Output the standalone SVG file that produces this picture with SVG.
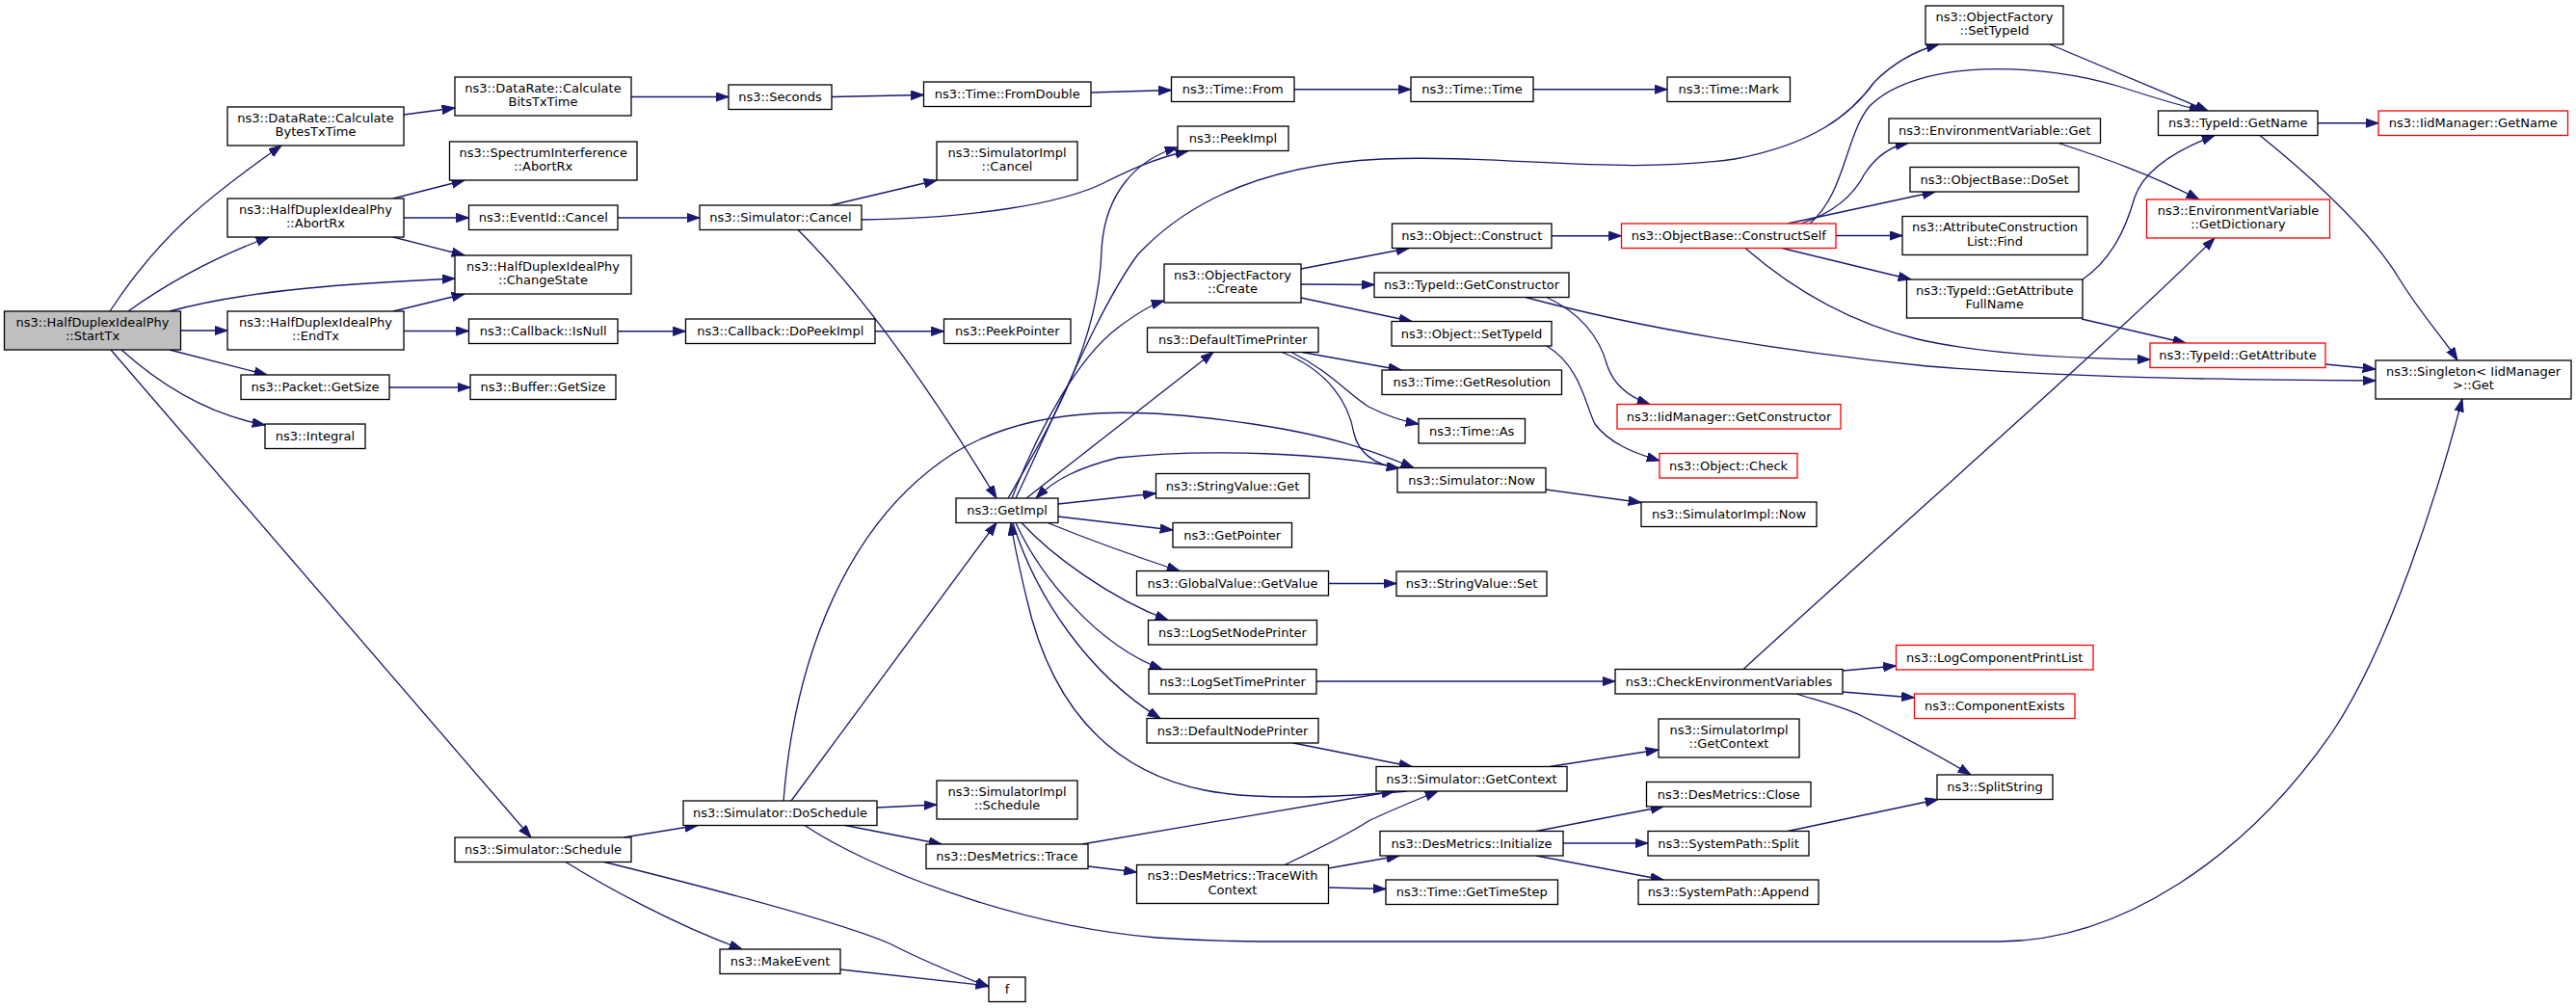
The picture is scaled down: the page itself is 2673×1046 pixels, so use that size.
<svg xmlns="http://www.w3.org/2000/svg" width="2673" height="1046" viewBox="0 0 2673 1046">
<style>
.node rect { fill:#ffffff; stroke:#000000; stroke-width:1.3; }
.node.red rect { stroke:#ff0000; }
.node.root rect { fill:#bfbfbf; }
.node text { font-family:"DejaVu Sans","Liberation Sans",sans-serif; font-size:13px; text-anchor:middle; fill:#000000; }
#edges path { fill:none; stroke:#191970; stroke-width:1.3; marker-end:url(#arr); }
</style>
<defs>
<marker id="arr" markerUnits="userSpaceOnUse" markerWidth="15" markerHeight="11" refX="13.3" refY="4.7" orient="auto">
<path d="M0,0 L13.3,4.7 L0,9.4 z" fill="#191970" stroke="#191970" stroke-width="1"/>
</marker>
</defs>
<rect x="0" y="0" width="2673" height="1046" fill="#ffffff"/>
<g id="edges">
<path d="M114,323 C165,245 215,205 292,151"/>
<path d="M133,323 C175,293 225,266 279,246"/>
<path d="M176,323 C260,300 370,294 472,289"/>
<path d="M187.5,343 L236,343"/>
<path d="M176,363 L277,389"/>
<path d="M126,363 C165,398 215,430 275,441"/>
<path d="M115,363 L551,869"/>
<path d="M419,119 L472,112"/>
<path d="M655,100.5 L756,100.5"/>
<path d="M863,100.5 L958.5,98.5"/>
<path d="M1132,96 L1215.5,93.5"/>
<path d="M1343,92.75 L1464,92.75"/>
<path d="M1591,92.75 L1730,92.75"/>
<path d="M408,206 L482,187"/>
<path d="M419,226 L486.5,226"/>
<path d="M408,246 L482,265"/>
<path d="M641,226 L726,226"/>
<path d="M408,323 L482,305"/>
<path d="M419,343.5 L486.5,343.5"/>
<path d="M641,343.75 L711.5,343.75"/>
<path d="M908,343.75 L979.5,343.75"/>
<path d="M404,402 L488,402"/>
<path d="M862,213 L972,187"/>
<path d="M894,228 C1010,226 1100,212 1145,190 C1175,175 1200,164 1233,156.5"/>
<path d="M828,238.5 C900,310 975,420 1034,517"/>
<path d="M647,869 L724,856.5"/>
<path d="M587,894.5 C625,918 700,960 770,985"/>
<path d="M627,894.5 C750,925 880,960 925,980 C960,998 995,1012 1026,1024"/>
<path d="M872,1006 L1026,1023"/>
<path d="M821,831 L1034,542.5"/>
<path d="M910,838 L972,835"/>
<path d="M877,856.5 L977,876"/>
<path d="M813,831 C825,680 880,540 990,470 C1080,415 1200,425 1300,440 C1380,452 1420,466 1467,485.5"/>
<path d="M835,856.5 C900,900 1050,960 1200,973 C1260,977 1300,977 1350,977 L2074,977 C2200,977 2330,890 2420,760 C2480,670 2530,510 2555,414"/>
<path d="M1046,517 C1085,450 1140,360 1143,260 C1146,200 1180,165 1222,153"/>
<path d="M1054,517 C1100,420 1140,320 1180,265 C1240,200 1330,170 1434,165 C1560,160 1680,182 1800,165 C1880,150 1920,120 1945,85 C1965,65 1990,52 2012,46"/>
<path d="M1050,517 C1080,440 1120,370 1160,340 C1180,325 1195,316 1208,312"/>
<path d="M1065,517 L1259,365.5"/>
<path d="M1098,523 L1199.5,512"/>
<path d="M1098,536 L1217,550"/>
<path d="M1087,542.5 C1130,560 1180,578 1224,592.5"/>
<path d="M1060,542.5 C1090,575 1150,620 1212,643.5"/>
<path d="M1054,542.5 C1080,600 1140,670 1206,694.5"/>
<path d="M1051,542.5 C1075,620 1130,700 1204,745.5"/>
<path d="M1460,821 C1380,828 1300,830 1250,820 C1150,800 1090,730 1065,620 C1058,590 1052,565 1049,542.5"/>
<path d="M1455,486 C1380,470 1250,465 1160,475 C1120,485 1095,497 1075,517"/>
<path d="M1351,365.5 L1454,384"/>
<path d="M1340,365.5 C1380,385 1400,410 1420,422 C1440,432 1455,437 1472,440"/>
<path d="M1330,365.5 C1380,385 1400,420 1405,450 C1410,470 1425,482 1452,486"/>
<path d="M1604,508 L1703,521.5"/>
<path d="M1378.5,605.5 L1449,605.5"/>
<path d="M1366,707 L1676,707"/>
<path d="M1342,771 L1465,795.5"/>
<path d="M1608,795.5 L1721,778"/>
<path d="M1123,876 L1447,821"/>
<path d="M1129,899 L1179.5,905"/>
<path d="M1333,897.5 C1370,880 1400,865 1420,852 C1445,840 1470,830 1492,821"/>
<path d="M1378.5,901 L1452,888"/>
<path d="M1378.5,921 L1438,922.5"/>
<path d="M1594,862.5 L1726,837"/>
<path d="M1622,875 L1710,875"/>
<path d="M1594,888 L1726,913"/>
<path d="M1855,862.5 L2011,829.5"/>
<path d="M1912,696 L1967.5,691"/>
<path d="M1912,718 L1986.5,724"/>
<path d="M1864,720 C1890,728 1910,733 1930,742 C1970,762 2010,783 2045,804"/>
<path d="M1809,694.5 C2000,520 2200,345 2298,247"/>
<path d="M1610,244.75 L1682.5,244.75"/>
<path d="M1350,279 L1462,257.5"/>
<path d="M1350,295 L1426,295.5"/>
<path d="M1350,309 L1465,333.5"/>
<path d="M1605,308.5 C1640,325 1660,350 1668,380 C1675,400 1690,412 1712,419.5"/>
<path d="M1605,359 C1640,380 1645,420 1655,440 C1670,460 1695,470 1722,478"/>
<path d="M1583,308.5 C1700,340 1850,365 2000,380 C2150,392 2300,394 2465,395"/>
<path d="M1869,232 C1905,220 1925,200 1935,180 C1945,165 1960,152 1980,148.5"/>
<path d="M1878,232 C1915,200 1915,140 1940,110 C1990,60 2120,65 2200,90 C2240,103 2265,110 2285,115"/>
<path d="M2127,46 L2291,115"/>
<path d="M1855,232 L2008,199"/>
<path d="M1905,244.5 L1974,244.5"/>
<path d="M1849,257.5 L1983,290"/>
<path d="M1811,257.5 C1860,300 1920,335 1990,352 C2060,368 2150,372 2231,373"/>
<path d="M2161,290 C2190,270 2205,240 2215,205 C2225,175 2260,155 2298,140.5"/>
<path d="M2160,331 L2268,356"/>
<path d="M2136,148.5 C2180,163 2230,180 2282,207"/>
<path d="M2405,127.75 L2468,127.75"/>
<path d="M2345,140.5 C2400,185 2460,240 2490,290 C2515,330 2535,350 2550,374"/>
<path d="M2413,378 L2465,383"/>
</g>
<g id="n_starttx" class="node root"><rect x="4.5" y="323" width="183" height="40"/><text x="96" y="338.7">ns3::HalfDuplexIdealPhy</text><text x="96" y="353.4">::StartTx</text></g>
<g id="n_bytes" class="node"><rect x="236" y="111" width="183" height="40"/><text x="327.5" y="126.7">ns3::DataRate::Calculate</text><text x="327.5" y="141.4">BytesTxTime</text></g>
<g id="n_abortrx" class="node"><rect x="236" y="206" width="183" height="40"/><text x="327.5" y="221.7">ns3::HalfDuplexIdealPhy</text><text x="327.5" y="236.4">::AbortRx</text></g>
<g id="n_endtx" class="node"><rect x="236" y="323" width="183" height="40"/><text x="327.5" y="338.7">ns3::HalfDuplexIdealPhy</text><text x="327.5" y="353.4">::EndTx</text></g>
<g id="n_pktsize" class="node"><rect x="250" y="389" width="154" height="25.5"/><text x="327" y="406.2">ns3::Packet::GetSize</text></g>
<g id="n_integral" class="node"><rect x="275" y="440" width="104" height="25.5"/><text x="327" y="457.2">ns3::Integral</text></g>
<g id="n_bits" class="node"><rect x="472" y="80" width="183" height="40"/><text x="563.5" y="95.7">ns3::DataRate::Calculate</text><text x="563.5" y="110.4">BitsTxTime</text></g>
<g id="n_specabort" class="node"><rect x="466.5" y="147" width="194.5" height="40"/><text x="563.75" y="162.7">ns3::SpectrumInterference</text><text x="563.75" y="177.4">::AbortRx</text></g>
<g id="n_evcancel" class="node"><rect x="486.5" y="213" width="154.5" height="25.5"/><text x="563.75" y="230.2">ns3::EventId::Cancel</text></g>
<g id="n_changestate" class="node"><rect x="472" y="265" width="183" height="40"/><text x="563.5" y="280.7">ns3::HalfDuplexIdealPhy</text><text x="563.5" y="295.4">::ChangeState</text></g>
<g id="n_isnull" class="node"><rect x="486.5" y="331" width="154.5" height="25.5"/><text x="563.75" y="348.2">ns3::Callback::IsNull</text></g>
<g id="n_bufsize" class="node"><rect x="488" y="389" width="151" height="25.5"/><text x="563.5" y="406.2">ns3::Buffer::GetSize</text></g>
<g id="n_schedule" class="node"><rect x="472" y="869" width="183" height="25.5"/><text x="563.5" y="886.2">ns3::Simulator::Schedule</text></g>
<g id="n_seconds" class="node"><rect x="756" y="88" width="107" height="25.5"/><text x="809.5" y="105.2">ns3::Seconds</text></g>
<g id="n_simcancel" class="node"><rect x="726" y="213" width="168" height="25.5"/><text x="810" y="230.2">ns3::Simulator::Cancel</text></g>
<g id="n_dopeek" class="node"><rect x="711.5" y="331" width="196.5" height="25.5"/><text x="809.75" y="348.2">ns3::Callback::DoPeekImpl</text></g>
<g id="n_doschedule" class="node"><rect x="709" y="831" width="201" height="25.5"/><text x="809.5" y="848.2">ns3::Simulator::DoSchedule</text></g>
<g id="n_makeevent" class="node"><rect x="747" y="985" width="125" height="25.5"/><text x="809.5" y="1002.2">ns3::MakeEvent</text></g>
<g id="n_fromdouble" class="node"><rect x="958.5" y="85" width="173.5" height="25.5"/><text x="1045.25" y="102.2">ns3::Time::FromDouble</text></g>
<g id="n_implcancel" class="node"><rect x="972" y="147" width="146" height="40"/><text x="1045" y="162.7">ns3::SimulatorImpl</text><text x="1045" y="177.4">::Cancel</text></g>
<g id="n_peekptr" class="node"><rect x="979.5" y="331" width="131.5" height="25.5"/><text x="1045.25" y="348.2">ns3::PeekPointer</text></g>
<g id="n_getimpl" class="node"><rect x="992" y="517" width="106" height="25.5"/><text x="1045" y="534.2">ns3::GetImpl</text></g>
<g id="n_implschedule" class="node"><rect x="972" y="810" width="146" height="40"/><text x="1045" y="825.7">ns3::SimulatorImpl</text><text x="1045" y="840.4">::Schedule</text></g>
<g id="n_dmtrace" class="node"><rect x="961" y="876" width="168" height="25.5"/><text x="1045" y="893.2">ns3::DesMetrics::Trace</text></g>
<g id="n_f" class="node"><rect x="1026" y="1014" width="38" height="25.5"/><text x="1045" y="1031.2">f</text></g>
<g id="n_from" class="node"><rect x="1215.5" y="80" width="127.5" height="25.5"/><text x="1279.25" y="97.2">ns3::Time::From</text></g>
<g id="n_peekimpl" class="node"><rect x="1222" y="131" width="115" height="25.5"/><text x="1279.5" y="148.2">ns3::PeekImpl</text></g>
<g id="n_ofcreate" class="node"><rect x="1208" y="274" width="142" height="40"/><text x="1279" y="289.7">ns3::ObjectFactory</text><text x="1279" y="304.4">::Create</text></g>
<g id="n_dtp" class="node"><rect x="1190.5" y="340" width="177.5" height="25.5"/><text x="1279.25" y="357.2">ns3::DefaultTimePrinter</text></g>
<g id="n_svget" class="node"><rect x="1199.5" y="491.5" width="159" height="25.5"/><text x="1279" y="508.7">ns3::StringValue::Get</text></g>
<g id="n_getptr" class="node"><rect x="1217" y="542.5" width="123.5" height="25.5"/><text x="1278.75" y="559.7">ns3::GetPointer</text></g>
<g id="n_gvget" class="node"><rect x="1179.5" y="592.5" width="199" height="25.5"/><text x="1279" y="609.7">ns3::GlobalValue::GetValue</text></g>
<g id="n_lsnp" class="node"><rect x="1191.5" y="643.5" width="175" height="25.5"/><text x="1279" y="660.7">ns3::LogSetNodePrinter</text></g>
<g id="n_lstp" class="node"><rect x="1192" y="694.5" width="174" height="25.5"/><text x="1279" y="711.7">ns3::LogSetTimePrinter</text></g>
<g id="n_dnp" class="node"><rect x="1190" y="745.5" width="178" height="25.5"/><text x="1279" y="762.7">ns3::DefaultNodePrinter</text></g>
<g id="n_dmtwc" class="node"><rect x="1179.5" y="897.5" width="199" height="40"/><text x="1279" y="913.2">ns3::DesMetrics::TraceWith</text><text x="1279" y="927.9">Context</text></g>
<g id="n_time" class="node"><rect x="1464" y="80" width="127" height="25.5"/><text x="1527.5" y="97.2">ns3::Time::Time</text></g>
<g id="n_objconstruct" class="node"><rect x="1444.5" y="232" width="165.5" height="25.5"/><text x="1527.25" y="249.2">ns3::Object::Construct</text></g>
<g id="n_getctor" class="node"><rect x="1426" y="283" width="202" height="25.5"/><text x="1527" y="300.2">ns3::TypeId::GetConstructor</text></g>
<g id="n_objsettid" class="node"><rect x="1444" y="333.5" width="166" height="25.5"/><text x="1527" y="350.7">ns3::Object::SetTypeId</text></g>
<g id="n_getres" class="node"><rect x="1434" y="384" width="186.5" height="25.5"/><text x="1527.25" y="401.2">ns3::Time::GetResolution</text></g>
<g id="n_as" class="node"><rect x="1472" y="434.5" width="110.5" height="25.5"/><text x="1527.25" y="451.7">ns3::Time::As</text></g>
<g id="n_now" class="node"><rect x="1450" y="485.5" width="154" height="25.5"/><text x="1527" y="502.7">ns3::Simulator::Now</text></g>
<g id="n_svset" class="node"><rect x="1449" y="593" width="156" height="25.5"/><text x="1527" y="610.2">ns3::StringValue::Set</text></g>
<g id="n_getctx" class="node"><rect x="1428" y="795.5" width="198" height="25.5"/><text x="1527" y="812.7">ns3::Simulator::GetContext</text></g>
<g id="n_dminit" class="node"><rect x="1432" y="862.5" width="190" height="25.5"/><text x="1527" y="879.7">ns3::DesMetrics::Initialize</text></g>
<g id="n_timestep" class="node"><rect x="1438" y="913" width="178.5" height="25.5"/><text x="1527.25" y="930.2">ns3::Time::GetTimeStep</text></g>
<g id="n_mark" class="node"><rect x="1730" y="80" width="127.5" height="25.5"/><text x="1793.75" y="97.2">ns3::Time::Mark</text></g>
<g id="n_cself" class="node red"><rect x="1682.5" y="232" width="222.5" height="25.5"/><text x="1793.75" y="249.2">ns3::ObjectBase::ConstructSelf</text></g>
<g id="n_iidctor" class="node red"><rect x="1678" y="419.5" width="232" height="25.5"/><text x="1794" y="436.7">ns3::IidManager::GetConstructor</text></g>
<g id="n_objcheck" class="node red"><rect x="1722" y="470.5" width="143" height="25.5"/><text x="1793.5" y="487.7">ns3::Object::Check</text></g>
<g id="n_implnow" class="node"><rect x="1703" y="521" width="182" height="25.5"/><text x="1794" y="538.2">ns3::SimulatorImpl::Now</text></g>
<g id="n_checkenv" class="node"><rect x="1676" y="694.5" width="236" height="25.5"/><text x="1794" y="711.7">ns3::CheckEnvironmentVariables</text></g>
<g id="n_implctx" class="node"><rect x="1721" y="746" width="146" height="40"/><text x="1794" y="761.7">ns3::SimulatorImpl</text><text x="1794" y="776.4">::GetContext</text></g>
<g id="n_dmclose" class="node"><rect x="1708.5" y="811.5" width="170.5" height="25.5"/><text x="1793.75" y="828.7">ns3::DesMetrics::Close</text></g>
<g id="n_split" class="node"><rect x="1710" y="862.5" width="167" height="25.5"/><text x="1793.5" y="879.7">ns3::SystemPath::Split</text></g>
<g id="n_append" class="node"><rect x="1700" y="913" width="187" height="25.5"/><text x="1793.5" y="930.2">ns3::SystemPath::Append</text></g>
<g id="n_ofsettid" class="node"><rect x="1998" y="6" width="143" height="40"/><text x="2069.5" y="21.7">ns3::ObjectFactory</text><text x="2069.5" y="36.4">::SetTypeId</text></g>
<g id="n_envget" class="node"><rect x="1960" y="123" width="219.5" height="25.5"/><text x="2069.75" y="140.2">ns3::EnvironmentVariable::Get</text></g>
<g id="n_doset" class="node"><rect x="1982" y="173.5" width="175" height="25.5"/><text x="2069.5" y="190.7">ns3::ObjectBase::DoSet</text></g>
<g id="n_acfind" class="node"><rect x="1974" y="224.5" width="192" height="40"/><text x="2070" y="240.2">ns3::AttributeConstruction</text><text x="2070" y="254.9">List::Find</text></g>
<g id="n_gafn" class="node"><rect x="1978.5" y="290" width="182.5" height="40"/><text x="2069.75" y="305.7">ns3::TypeId::GetAttribute</text><text x="2069.75" y="320.4">FullName</text></g>
<g id="n_lcpl" class="node red"><rect x="1967.5" y="669.5" width="204.5" height="25.5"/><text x="2069.75" y="686.7">ns3::LogComponentPrintList</text></g>
<g id="n_cexists" class="node red"><rect x="1986.5" y="720" width="166.5" height="25.5"/><text x="2069.75" y="737.2">ns3::ComponentExists</text></g>
<g id="n_splitstr" class="node"><rect x="2010" y="804" width="120" height="25.5"/><text x="2070" y="821.2">ns3::SplitString</text></g>
<g id="n_getname" class="node"><rect x="2239.5" y="115" width="165.5" height="25.5"/><text x="2322.25" y="132.2">ns3::TypeId::GetName</text></g>
<g id="n_getdict" class="node red"><rect x="2227.5" y="207" width="190" height="40"/><text x="2322.5" y="222.7">ns3::EnvironmentVariable</text><text x="2322.5" y="237.4">::GetDictionary</text></g>
<g id="n_getattr" class="node red"><rect x="2231" y="356" width="182" height="25.5"/><text x="2322" y="373.2">ns3::TypeId::GetAttribute</text></g>
<g id="n_iidname" class="node red"><rect x="2468" y="115" width="196.5" height="25.5"/><text x="2566.25" y="132.2">ns3::IidManager::GetName</text></g>
<g id="n_singleton" class="node"><rect x="2465" y="374" width="203" height="40"/><text x="2566.5" y="389.7">ns3::Singleton&lt; IidManager</text><text x="2566.5" y="404.4">&gt;::Get</text></g>
</svg>
